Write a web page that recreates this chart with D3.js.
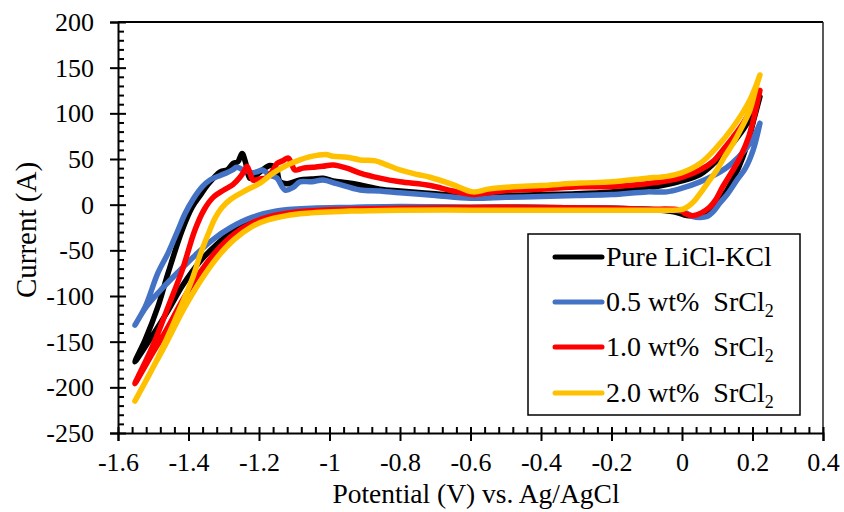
<!DOCTYPE html>
<html>
<head>
<meta charset="utf-8">
<script src="https://cdn.jsdelivr.net/npm/d3@7"></script>
<style>
html,body{margin:0;padding:0;background:#fff;}
svg{display:block;}
text{font-family:"Liberation Serif","Times New Roman",serif;fill:#000;}
</style>
</head>
<body>
<svg id="chart" width="844" height="512"></svg>
<script>
// ---------- DATA (loop: right vertex -> cathodic (lower) branch -> left vertex -> anodic (upper) branch) ----------
const seriesNames = ["Pure LiCl-KCl", "0.5 wt%  SrCl", "1.0 wt%  SrCl", "2.0 wt%  SrCl"];
const seriesSub = ["", "2", "2", "2"];
const seriesColors = ["#000000", "#4472C4", "#FF0000", "#FFC000"];

const pureV = [0.221,0.205,0.185,0.16,0.128,0.1,0.071,0.04,0.014,-0.02,-0.1,-0.2,-0.4,-0.6,-0.8,-0.9,-1.0,-1.12,-1.2,-1.27,-1.319,-1.367,-1.416,-1.461,-1.51,-1.552,
  -1.523,-1.487,-1.458,-1.418,-1.39,-1.367,-1.345,-1.31,-1.29,-1.274,-1.26,-1.248,-1.238,-1.226,-1.21,-1.19,-1.169,-1.152,-1.14,-1.12,-1.084,-1.05,-1.018,-0.99,-0.95,-0.913,-0.857,-0.8,-0.7,-0.593,-0.5,-0.4,-0.3,-0.2,-0.1,-0.043,0,0.051,0.09,0.128,0.16,0.185,0.205,0.221];
const pureI = [118,95,66,40,16,0,-9,-12,-12,-8,-5,-4,-3,-3,-3,-4,-5,-8,-15,-28,-43,-62,-88,-118,-148,-172,
  -148,-112,-75,-28,-3,10,22,36,38,45,47,56,46,29,32,38,43,40,25,23,27,28,29,26,24,21.6,17,15,12,9,10,11,12,14,18,22,26,33,45,60,75,89,104,118];

const sr05V = [0.221,0.202,0.18,0.156,0.13,0.108,0.09,0.071,0.05,0.031,0.0,-0.05,-0.1,-0.2,-0.4,-0.6,-0.8,-0.94,-1.05,-1.15,-1.22,-1.28,-1.33,-1.38,-1.43,-1.48,-1.52,-1.552,
  -1.523,-1.487,-1.458,-1.43,-1.41,-1.387,-1.36,-1.339,-1.31,-1.291,-1.275,-1.263,-1.25,-1.234,-1.22,-1.206,-1.19,-1.177,-1.16,-1.149,-1.126,-1.103,-1.084,-1.05,-1.018,-0.98,-0.913,-0.857,-0.8,-0.7,-0.6,-0.5,-0.4,-0.3,-0.2,-0.1,-0.043,0,0.051,0.09,0.128,0.16,0.185,0.205,0.221];
const sr05I = [89,60,40,27,12,2,-7,-13,-14,-13,-7,-6,-5,-4,-3,-3,-2,-3,-4,-7,-14,-25,-38,-55,-74,-94,-112,-132,
  -112,-75,-53,-28,-10,6,20,27,32,35,38,41,39,37,35,36,38,34.5,31,29,16,19,25,25,27,23,16,15,13,10,7,8,9,10,11,14,14,18,25,32,41,52,63,75,89];

const sr10V = [0.221,0.213,0.19,0.165,0.14,0.116,0.095,0.079,0.055,0.031,0.01,-0.006,-0.1,-0.2,-0.4,-0.6,-0.8,-0.942,-1.064,-1.16,-1.22,-1.27,-1.319,-1.367,-1.416,-1.461,-1.51,-1.552,
  -1.503,-1.458,-1.418,-1.382,-1.355,-1.33,-1.3,-1.274,-1.254,-1.24,-1.234,-1.226,-1.217,-1.2,-1.177,-1.16,-1.149,-1.133,-1.117,-1.108,-1.098,-1.075,-1.047,-1.02,-0.99,-0.95,-0.913,-0.857,-0.8,-0.715,-0.65,-0.593,-0.55,-0.479,-0.4,-0.29,-0.2,-0.1,-0.043,0,0.051,0.09,0.116,0.145,0.173,0.2,0.221];
const sr10I = [125,110,75,52,35,20,5,-2.5,-9,-12,-10,-6,-5,-4,-3,-3,-4,-5,-7,-12,-20,-32,-50,-74,-104,-136,-168,-196,
  -156,-112,-72,-28,-5,8,16,22,30,38,42,35,27,28,30,38,45,48,51,45,38,40,41,42,43.5,40,34.5,29,25,21,15,11,13,16,17,19.5,20,23,26,30,38,48,60,74,89,107,125];

const sr20V = [0.221,0.21,0.193,0.17,0.145,0.12,0.099,0.075,0.051,0.03,0.003,-0.05,-0.1,-0.2,-0.4,-0.6,-0.8,-0.942,-1.084,-1.177,-1.22,-1.27,-1.319,-1.367,-1.416,-1.461,-1.51,-1.552,
  -1.495,-1.438,-1.39,-1.367,-1.345,-1.325,-1.305,-1.28,-1.25,-1.226,-1.2,-1.16,-1.132,-1.11,-1.084,-1.06,-1.035,-1.01,-0.99,-0.95,-0.913,-0.87,-0.847,-0.8,-0.75,-0.715,-0.65,-0.593,-0.55,-0.479,-0.4,-0.29,-0.2,-0.1,-0.043,0,0.051,0.099,0.145,0.193,0.221];
const sr20I = [142,128,104,85,67,52,38,25,12,2,-5,-6,-6,-6,-6,-6,-6,-7,-10,-17,-24,-38,-58,-84,-116,-150,-185,-215,
  -174,-126,-82,-55,-33,-15,-3,6,13,18,23,34.5,41,45,49,52,54,55,53,52,49,48,45,38,33,30,22,14,17,19.5,21,23.6,25,29,31,35,45,63,85,115,142];

const xTicks = [-1.6,-1.4,-1.2,-1,-0.8,-0.6,-0.4,-0.2,0,0.2,0.4];
const yTicks = [-250,-200,-150,-100,-50,0,50,100,150,200];
const xTitle = "Potential (V) vs. Ag/AgCl";
const yTitle = "Current (A)";

// ---------- LAYOUT ----------
const svg = d3.select("#chart");
const L = 118, R = 823, T = 22, B = 433;
const x = d3.scaleLinear().domain([-1.6, 0.4]).range([L, R]);
const y = d3.scaleLinear().domain([-250, 200]).range([B, T]);

const series = [
  {V: pureV, I: pureI},
  {V: sr05V, I: sr05I},
  {V: sr10V, I: sr10I},
  {V: sr20V, I: sr20I}
];

// plot border (top + right)
svg.append("line").attr("x1", L).attr("x2", R).attr("y1", T).attr("y2", T).attr("stroke", "#000").attr("stroke-width", 2);
svg.append("line").attr("x1", R).attr("x2", R).attr("y1", T).attr("y2", B).attr("stroke", "#222").attr("stroke-width", 1.5);

// curves
const line = d3.line().x(d => x(d[0])).y(d => y(d[1])).curve(d3.curveCatmullRom.alpha(0.5));
const gCurves = svg.append("g");
series.forEach((s, i) => {
  const pts = s.V.map((v, k) => [v, s.I[k]]);
  gCurves.append("path").datum(pts)
    .attr("d", line)
    .attr("fill", "none")
    .attr("stroke", seriesColors[i])
    .attr("stroke-width", 5.5)
    .attr("stroke-linejoin", "round")
    .attr("stroke-linecap", "round");
});

// minor ticks
const xMinor = d3.range(-1.6, 0.4001, 0.04).filter(v => Math.abs(Math.round(v / 0.2) * 0.2 - v) > 1e-6);
const yMinor = d3.range(-250, 200.1, 10).filter(v => v % 50 !== 0);

// y axis
const gy = svg.append("g").attr("transform", `translate(${L},0)`);
gy.call(d3.axisLeft(y).tickValues(yTicks).tickSize(8).tickPadding(16).tickFormat(d => String(d)));
gy.append("g").call(d3.axisRight(y).tickValues(yTicks).tickSize(8).tickFormat(""));
gy.append("g").call(d3.axisRight(y).tickValues(yMinor).tickSize(6).tickFormat(""));
gy.selectAll(".domain").attr("stroke", "#000").attr("stroke-width", 2);
gy.selectAll(".tick line").attr("stroke", "#000").attr("stroke-width", 2);
gy.selectAll("g g .domain").remove();
gy.selectAll(".tick text").attr("font-size", 26).attr("font-family", "Liberation Serif").attr("dy", "0.33em");

// x axis
const gx = svg.append("g").attr("transform", `translate(0,${B})`);
gx.call(d3.axisBottom(x).tickValues(xTicks).tickSize(8).tickPadding(12).tickFormat(d => String(d)));
gx.append("g").call(d3.axisTop(x).tickValues(xTicks).tickSize(6).tickFormat(""));
gx.append("g").call(d3.axisTop(x).tickValues(xMinor).tickSize(6).tickFormat(""));
gx.selectAll(".domain").attr("stroke", "#000").attr("stroke-width", 2);
gx.selectAll(".tick line").attr("stroke", "#000").attr("stroke-width", 2);
gx.selectAll("g g .domain").remove();
gx.selectAll(".tick text").attr("font-size", 26).attr("font-family", "Liberation Serif");

// axis titles
svg.append("text").attr("x", 476).attr("y", 503).attr("text-anchor", "middle")
  .attr("font-size", 27.5).text(xTitle);
svg.append("text").attr("transform", `translate(36,230) rotate(-90)`).attr("text-anchor", "middle")
  .attr("font-size", 29).text(yTitle);

// legend
const lg = svg.append("g");
lg.append("rect").attr("x", 528).attr("y", 234).attr("width", 272).attr("height", 181)
  .attr("fill", "#fff").attr("stroke", "#000").attr("stroke-width", 1.5);
const rowY = [257, 302, 347, 393];
series.forEach((s, i) => {
  lg.append("line").attr("x1", 555).attr("x2", 602).attr("y1", rowY[i]).attr("y2", rowY[i])
    .attr("stroke", seriesColors[i]).attr("stroke-width", 5).attr("stroke-linecap", "round");
  const t = lg.append("text").attr("x", 606).attr("y", rowY[i] + 9).attr("font-size", 28)
    .style("white-space", "pre").text(seriesNames[i]);
  if (seriesSub[i]) t.append("tspan").attr("font-size", 18).attr("dy", 6).text(seriesSub[i]);
});
</script>
</body>
</html>
